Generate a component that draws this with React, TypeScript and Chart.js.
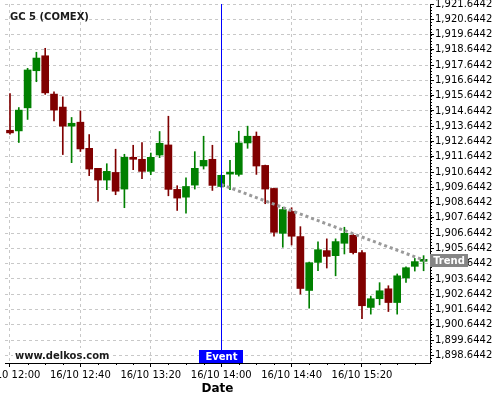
import React, { useEffect, useRef } from "react";
import { Chart, registerables } from "chart.js";

Chart.register(...registerables);

// ---- data ----
const times = [
  "12:00", "12:05", "12:10", "12:15", "12:20", "12:25", "12:30", "12:35",
  "12:40", "12:45", "12:50", "12:55", "13:00", "13:05", "13:10", "13:15",
  "13:20", "13:25", "13:30", "13:35", "13:40", "13:45", "13:50", "13:55",
  "14:00", "14:05", "14:10", "14:15", "14:20", "14:25", "14:30", "14:35",
  "14:40", "14:45", "14:50", "14:55", "15:00", "15:05", "15:10", "15:15",
  "15:20", "15:25", "15:30", "15:35", "15:40", "15:45", "15:50", "15:55",
];
const opens = [
  1913.38, 1913.34, 1914.85, 1917.28, 1918.26, 1915.75, 1914.90, 1913.65,
  1913.91, 1912.20, 1910.89, 1910.12, 1910.62, 1909.53, 1911.54, 1911.48,
  1910.69, 1911.76, 1912.42, 1909.51, 1909.00, 1909.79, 1911.04, 1911.48,
  1909.70, 1910.51, 1910.49, 1912.55, 1912.99, 1911.08, 1909.57, 1906.63,
  1908.06, 1906.42, 1902.89, 1904.73, 1905.50, 1905.17, 1905.98, 1906.50,
  1905.37, 1901.78, 1902.35, 1903.00, 1902.10, 1903.71, 1904.47, 1904.80,
];
const highs = [
  1915.79, 1914.87, 1917.44, 1918.49, 1918.75, 1915.90, 1915.57, 1914.22,
  1914.65, 1913.10, 1910.89, 1911.19, 1912.14, 1911.81, 1912.40, 1912.58,
  1911.89, 1913.30, 1914.30, 1909.75, 1910.27, 1911.98, 1912.99, 1912.40,
  1910.45, 1911.41, 1913.32, 1913.65, 1913.27, 1911.10, 1909.60, 1908.34,
  1908.31, 1907.07, 1904.75, 1906.07, 1906.27, 1906.27, 1907.03, 1906.55,
  1905.50, 1902.52, 1903.40, 1903.20, 1903.97, 1904.43, 1904.99, 1905.17,
];
const lows = [
  1913.12, 1912.58, 1914.09, 1916.56, 1915.73, 1913.99, 1911.79, 1911.26,
  1911.99, 1910.41, 1908.74, 1909.49, 1909.16, 1908.31, 1910.80, 1910.21,
  1910.47, 1911.59, 1909.09, 1908.13, 1907.95, 1909.53, 1910.84, 1909.44,
  1909.65, 1909.49, 1910.38, 1912.20, 1910.49, 1908.57, 1906.44, 1905.72,
  1905.87, 1902.65, 1901.73, 1904.18, 1904.36, 1903.85, 1905.28, 1905.28,
  1901.05, 1901.34, 1901.95, 1901.51, 1901.34, 1903.42, 1904.16, 1904.18,
];
const closes = [
  1913.21, 1914.70, 1917.33, 1918.11, 1915.83, 1914.70, 1913.65, 1913.84,
  1912.16, 1910.84, 1910.12, 1910.69, 1909.39, 1911.61, 1911.48, 1910.69,
  1911.61, 1912.53, 1909.51, 1908.94, 1909.70, 1910.89, 1911.41, 1909.77,
  1910.43, 1910.58, 1912.55, 1912.99, 1911.04, 1909.53, 1906.70, 1908.19,
  1906.44, 1903.02, 1904.71, 1905.56, 1905.12, 1906.09, 1906.63, 1905.37,
  1901.89, 1902.35, 1902.87, 1902.10, 1903.85, 1904.38, 1904.78, 1904.91,
];
const xTickTimes = ["12:00", "12:40", "13:20", "14:00", "14:40", "15:20"];
const yTickValues = [
  1898.6442, 1899.6442, 1900.6442, 1901.6442, 1902.6442, 1903.6442,
  1904.6442, 1905.6442, 1906.6442, 1907.6442, 1908.6442, 1909.6442,
  1910.6442, 1911.6442, 1912.6442, 1913.6442, 1914.6442, 1915.6442,
  1916.6442, 1917.6442, 1918.6442, 1919.6442, 1920.6442, 1921.6442,
];
const dateLabel = "16/10";
const titleText = "GC 5 (COMEX)";
const watermark = "www.delkos.com";
const eventTime = "14:00";
const eventText = "Event";
const trendTimes = ["14:00", "15:56"];
const trendValues = [1909.83, 1904.84];
const trendText = "Trend";

const GREEN = "#008000";
const RED = "#800000";

const toMin = (s: string) => {
  const [h, m] = s.split(":").map(Number);
  return (h - 12) * 60 + m;
};

const X_MIN = -2.84;
const X_MAX = 238.64;
const Y_MIN = 1898.14;
const Y_MAX = 1921.65;

const overlay = {
  id: "overlay",
  afterDatasetsDraw(chart: any) {
    const { ctx, chartArea, scales } = chart;
    const xs = scales.x;
    ctx.save();
    // event line
    const ex = Math.round(xs.getPixelForValue(toMin(eventTime))) + 0.5;
    ctx.strokeStyle = "#0000ff";
    ctx.lineWidth = 1;
    ctx.beginPath();
    ctx.moveTo(ex, chartArea.top);
    ctx.lineTo(ex, chartArea.bottom);
    ctx.stroke();
    // title
    ctx.font = "bold 10px 'DejaVu Sans'";
    ctx.fillStyle = "#1a1a1a";
    ctx.textBaseline = "alphabetic";
    ctx.textAlign = "left";
    ctx.fillText(titleText, chartArea.left + 5, 19.5);
    // watermark
    const ww = ctx.measureText(watermark).width;
    ctx.fillStyle = "#ffffff";
    ctx.fillRect(chartArea.left + 8, chartArea.bottom - 15, ww + 4, 12);
    ctx.fillStyle = "#1a1a1a";
    ctx.fillText(watermark, chartArea.left + 10, chartArea.bottom - 4.5);
    ctx.restore();
  },
  afterDraw(chart: any) {
    const { ctx, chartArea, scales } = chart;
    const xs = scales.x;
    const ys = scales.y;
    ctx.save();
    // minor ticks
    ctx.strokeStyle = "#000";
    ctx.lineWidth = 1;
    ctx.beginPath();
    for (let m = 0; m <= 230; m += 10) {
      if (m % 40 === 0) continue;
      const px = Math.round(xs.getPixelForValue(m)) + 0.5;
      ctx.moveTo(px, chartArea.bottom);
      ctx.lineTo(px, chartArea.bottom + 2);
    }
    for (let v = yTickValues[0] - 0.4; v <= Y_MAX; v += 0.2) {
      const py = Math.round(ys.getPixelForValue(v)) + 0.5;
      if (py < chartArea.top || py > chartArea.bottom) continue;
      ctx.moveTo(chartArea.right, py);
      ctx.lineTo(chartArea.right + 2, py);
    }
    ctx.stroke();
    ctx.font = "bold 10px 'DejaVu Sans'";
    ctx.textAlign = "center";
    ctx.textBaseline = "middle";
    // event label
    const ex = Math.round(xs.getPixelForValue(toMin(eventTime)));
    ctx.fillStyle = "#0000ff";
    ctx.fillRect(ex - 22, chartArea.bottom - 13, 44, 13);
    ctx.fillStyle = "#ffffff";
    ctx.fillText(eventText, ex + 0.5, chartArea.bottom - 6);
    // trend label
    const ty = ys.getPixelForValue(trendValues[1]);
    ctx.fillStyle = "#858585";
    ctx.fillRect(chartArea.right, Math.round(ty - 6.5), 38, 13);
    ctx.fillStyle = "#ffffff";
    ctx.fillText(trendText, chartArea.right + 19, Math.round(ty - 6.5) + 7);
    ctx.restore();
  },
};

export default function App() {
  const ref = useRef<HTMLCanvasElement | null>(null);

  useEffect(() => {
    if (!ref.current) return;
    Chart.defaults.font.family = "'DejaVu Sans'";
    const colors = opens.map((o, i) => (closes[i] >= o ? GREEN : RED));
    const chart = new Chart(ref.current, {
      type: "bar",
      data: {
        datasets: [
          {
            type: "bar",
            label: "wicks",
            data: times.map((t, i) => ({ x: toMin(t), y: [lows[i], highs[i]] })) as any,
            backgroundColor: colors,
            borderWidth: 0,
            barThickness: 1,
            grouped: false,
            order: 3,
          } as any,
          {
            type: "bar",
            label: "bodies",
            data: times.map((t, i) => ({ x: toMin(t), y: [opens[i], closes[i]] })) as any,
            backgroundColor: colors,
            borderWidth: 0,
            barThickness: 7,
            minBarLength: 2,
            grouped: false,
            order: 2,
          } as any,
          {
            type: "line",
            label: "trend",
            data: trendTimes.map((t, i) => ({ x: toMin(t), y: trendValues[i] })) as any,
            borderColor: "#9a9a9a",
            borderWidth: 3,
            borderDash: [3, 3],
            pointRadius: 0,
            fill: false,
            tension: 0,
            order: 1,
          } as any,
        ],
      },
      options: {
        responsive: false,
        animation: false,
        devicePixelRatio: 1,
        layout: { padding: { left: 5, top: 4, right: 0, bottom: 0 } },
        plugins: {
          legend: { display: false },
          tooltip: { enabled: false },
          title: { display: false },
        },
        scales: {
          x: {
            type: "linear",
            min: X_MIN,
            max: X_MAX,
            offset: false,
            grid: {
              display: true,
              offset: false,
              color: "#c8c8c8",
              lineWidth: 1,
              drawTicks: true,
              tickLength: 4,
              tickColor: "#000",
            },
            border: { display: true, color: "#000", width: 1, dash: [3, 3] },
            ticks: {
              autoSkip: false,
              maxRotation: 0,
              minRotation: 0,
              padding: 2,
              color: "#000",
              font: { size: 10 },
              callback: (_v: any, i: number) => `${dateLabel} ${xTickTimes[i]}`,
            },
            title: {
              display: true,
              text: "Date",
              color: "#000",
              font: { size: 12, weight: "bold" },
              padding: { top: 0, bottom: 4 },
            },
            afterBuildTicks: (s: any) => {
              s.ticks = xTickTimes.map((t) => ({ value: toMin(t) }));
            },
            afterFit: (s: any) => {
              s.height = 37;
              s.paddingLeft = 0;
              s.paddingRight = 0;
            },
          } as any,
          y: {
            type: "linear",
            position: "right",
            min: Y_MIN,
            max: Y_MAX,
            beginAtZero: false,
            grid: {
              display: true,
              color: "#c8c8c8",
              lineWidth: 1,
              drawTicks: true,
              tickLength: 4,
              tickColor: "#000",
            },
            border: { display: true, color: "#000", width: 1, dash: [3, 3] },
            ticks: {
              padding: 1,
              color: "#000",
              font: { size: 10 },
              callback: (v: any) =>
                Number(v).toLocaleString("en-US", {
                  minimumFractionDigits: 4,
                  maximumFractionDigits: 4,
                }),
            },
            afterBuildTicks: (s: any) => {
              s.ticks = yTickValues.map((v) => ({ value: v }));
            },
            afterFit: (s: any) => {
              s.width = 70;
              s.paddingTop = 0;
              s.paddingBottom = 0;
            },
          } as any,
        },
      },
      plugins: [overlay],
    });
    return () => chart.destroy();
  }, []);

  return (
    <div
      style={{
        position: "absolute",
        left: 0,
        top: 0,
        width: 500,
        height: 400,
        background: "#ffffff",
      }}
    >
      <canvas
        ref={ref}
        width={500}
        height={400}
        style={{ display: "block", width: 500, height: 400 }}
      />
    </div>
  );
}
